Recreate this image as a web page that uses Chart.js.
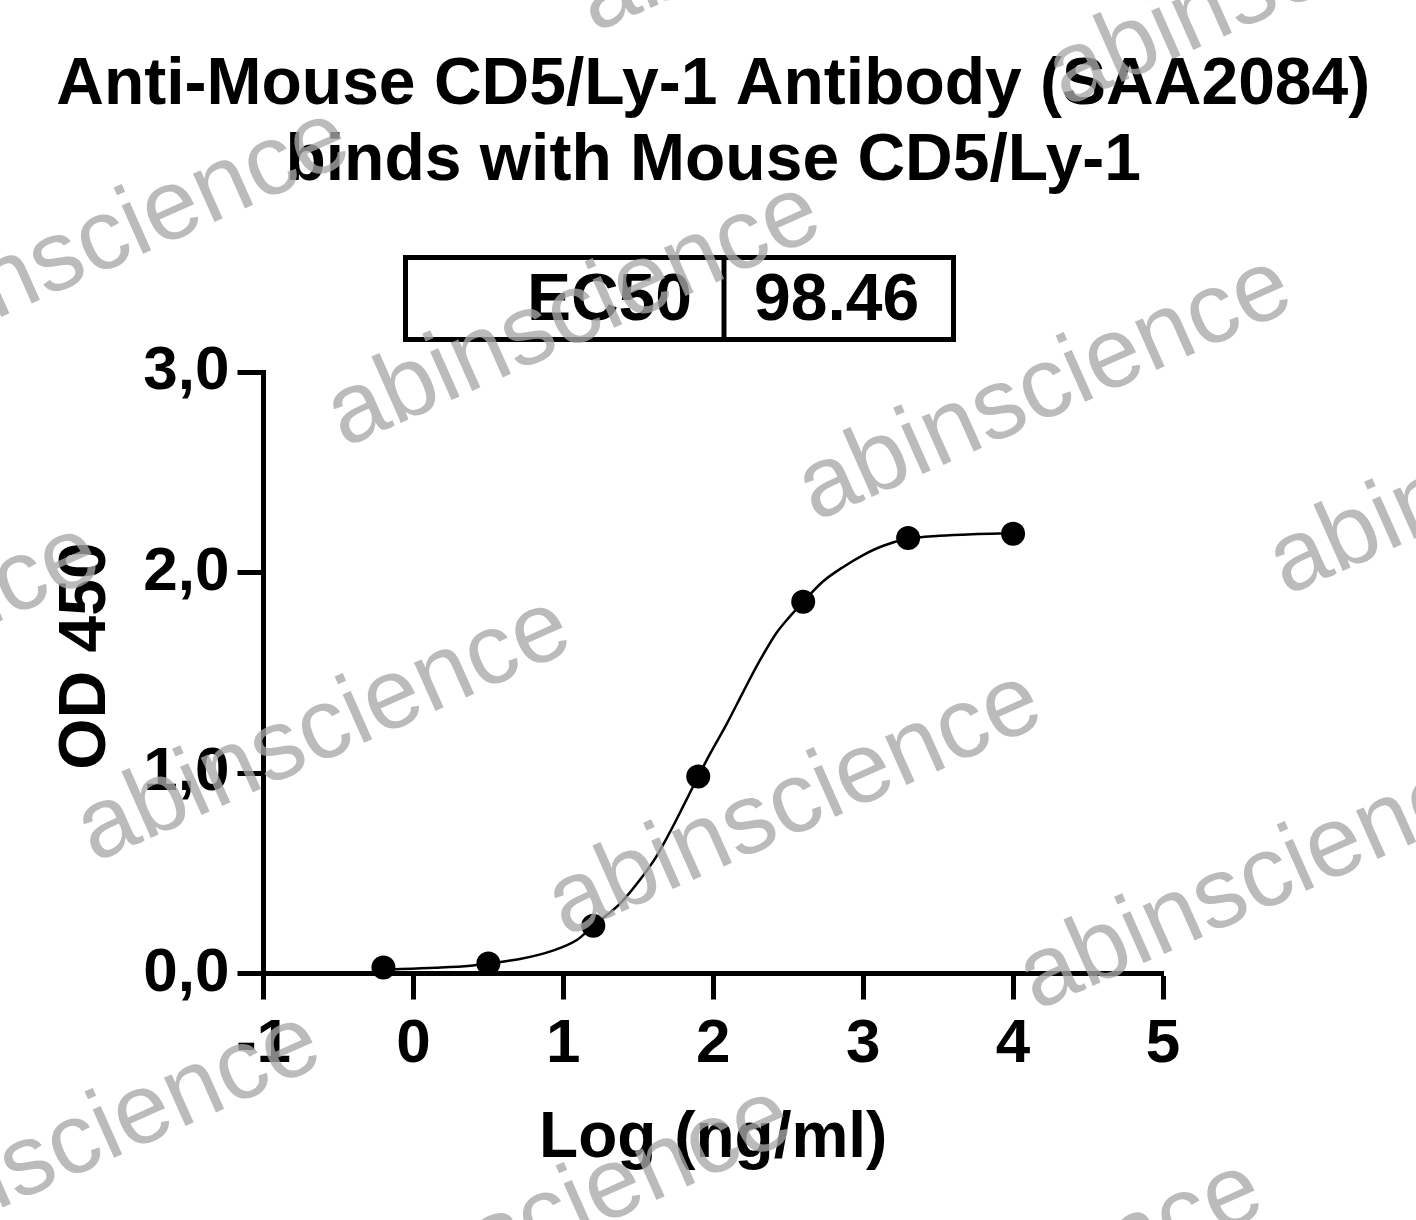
<!DOCTYPE html>
<html>
<head>
<meta charset="utf-8">
<title>Anti-Mouse CD5/Ly-1 Antibody (SAA2084) binds with Mouse CD5/Ly-1</title>
<script src="https://cdn.jsdelivr.net/npm/chart.js@4.4.1/dist/chart.umd.min.js"></script>
<style>
  html, body { margin: 0; padding: 0; background: #fff; }
  #wrap { width: 1416px; height: 1220px; position: relative; }
</style>
</head>
<body>
<div id="wrap"><canvas id="ec50-chart"></canvas></div>
<script>
// measured points, x = log10(ng/ml)
const doseLog = [-0.2, 0.5, 1.2, 1.9, 2.6, 3.3, 4.0];
const od450 = [0.03, 0.05, 0.238, 0.983, 1.854, 2.172, 2.193];

// fitted curve
const fitLog = [-0.2, 0.15, 0.38, 0.5, 0.71, 0.93, 1.09, 1.2, 1.38, 1.51, 1.62, 1.73, 1.82, 1.9,
  1.98, 2.09, 2.2, 2.31, 2.42, 2.51, 2.6, 2.73, 2.87, 3.0, 3.13, 3.3, 3.51, 3.73, 4.0];
const fitOd = [0.020, 0.029, 0.039, 0.050, 0.072, 0.114, 0.167, 0.238, 0.350, 0.466, 0.583, 0.732, 0.865, 0.983,
  1.098, 1.245, 1.405, 1.560, 1.697, 1.780, 1.854, 1.954, 2.029, 2.087, 2.132, 2.168, 2.183, 2.191, 2.196];

// axis labels
const xTickLabels = ['-1', '0', '1', '2', '3', '4', '5'];
const yTickLabels = ['0,0', '1,0', '2,0', '3,0'];
const xTitle = 'Log (ng/ml)';
const yTitle = 'OD 450';

const titleLines = ['Anti-Mouse CD5/Ly-1 Antibody (SAA2084)', 'binds with Mouse CD5/Ly-1'];
const ec50Label = 'EC50';
const ec50Value = '98.46';
const watermarkText = 'abinscience';

const FONT = "'Liberation Sans', Arial, Helvetica, sans-serif";

// Title, EC50 table, y title and the watermark on top
const decorPlugin = {
  id: 'decor',
  afterDraw(chart) {
    const ctx = chart.ctx;
    const area = chart.chartArea;
    const cx = (area.left + area.right) / 2;

    ctx.save();
    ctx.fillStyle = '#000';
    ctx.textAlign = 'center';
    ctx.textBaseline = 'alphabetic';
    ctx.font = 'bold 66px ' + FONT;
    ctx.fillText(titleLines[0], cx, 104);
    ctx.fillText(titleLines[1], cx, 179.5);

    // EC50 box
    ctx.strokeStyle = '#000';
    ctx.lineWidth = 5;
    ctx.strokeRect(405.5, 257.5, 548, 82);
    ctx.beginPath();
    ctx.moveTo(724, 257.5);
    ctx.lineTo(724, 339.5);
    ctx.stroke();
    ctx.font = 'bold 66px ' + FONT;
    ctx.textAlign = 'right';
    ctx.fillText(ec50Label, 692, 320);
    ctx.textAlign = 'left';
    ctx.fillText(ec50Value, 754, 320);

    // y axis title
    ctx.save();
    ctx.translate(105, 656);
    ctx.rotate(-Math.PI / 2);
    ctx.textAlign = 'center';
    ctx.font = 'bold 66px ' + FONT;
    ctx.fillText(yTitle, 0, 0);
    ctx.restore();

    // watermark grid
    ctx.font = '100px ' + FONT;
    ctx.fillStyle = 'rgba(168,168,168,0.78)';
    ctx.textAlign = 'left';
    for (let i = -3; i <= 3; i++) {
      for (let j = -3; j <= 3; j++) {
        const ox = 815 + i * 471 - j * 250;
        const oy = 522 + i * 74 + j * 415;
        if (ox < -700 || ox > 1500 || oy < -100 || oy > 1600) continue;
        ctx.save();
        ctx.translate(ox, oy);
        ctx.rotate(-24 * Math.PI / 180);
        ctx.fillText(watermarkText, 0, 0);
        ctx.restore();
      }
    }
    ctx.restore();
  }
};

const axisGrid = {
  drawOnChartArea: false,
  drawTicks: true,
  tickLength: 26,
  tickWidth: 5,
  tickColor: '#000'
};

new Chart(document.getElementById('ec50-chart'), {
  type: 'scatter',
  data: {
    datasets: [
      {
        label: 'fit',
        data: fitLog.map((x, i) => ({ x: x, y: fitOd[i] })),
        showLine: true,
        borderColor: '#000',
        borderWidth: 2.5,
        pointRadius: 0,
        cubicInterpolationMode: 'monotone',
        clip: false,
        order: 1
      },
      {
        label: 'OD 450',
        data: doseLog.map((x, i) => ({ x: x, y: od450[i] })),
        pointRadius: 12,
        pointBackgroundColor: '#000',
        pointBorderWidth: 0,
        clip: false,
        order: 0
      }
    ]
  },
  options: {
    responsive: true,
    maintainAspectRatio: false,
    animation: false,
    layout: { padding: { top: 372, right: 253, bottom: 0, left: 0 } },
    plugins: {
      legend: { display: false },
      tooltip: { enabled: false },
      title: { display: false }
    },
    scales: {
      x: {
        type: 'linear',
        min: -1,
        max: 5,
        afterFit: function (scale) { scale.height = 246.5; },
        ticks: {
          stepSize: 1,
          padding: 8,
          color: '#000',
          font: { family: FONT, size: 62, weight: 'bold' },
          callback: function (value, index) { return xTickLabels[index]; }
        },
        grid: axisGrid,
        border: { display: true, color: '#000', width: 5 },
        title: {
          display: true,
          text: xTitle,
          color: '#000',
          font: { family: FONT, size: 64, weight: 'bold' },
          padding: { top: 0, bottom: 42 }
        }
      },
      y: {
        type: 'linear',
        min: 0,
        max: 3,
        afterFit: function (scale) { scale.width = 263.5; },
        ticks: {
          stepSize: 1,
          padding: 8,
          color: '#000',
          font: { family: FONT, size: 62, weight: 'bold' },
          callback: function (value, index) { return yTickLabels[index]; }
        },
        grid: axisGrid,
        border: { display: true, color: '#000', width: 5 }
      }
    }
  },
  plugins: [decorPlugin]
});
</script>
</body>
</html>
